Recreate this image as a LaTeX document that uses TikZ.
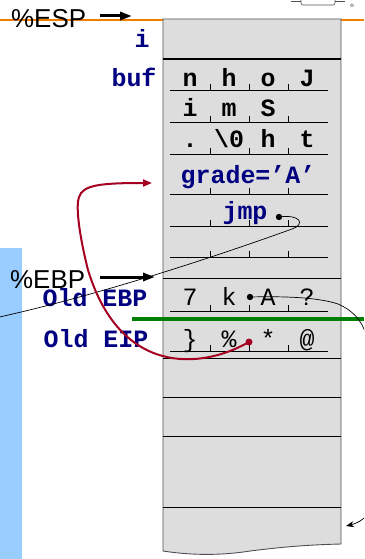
\documentclass[tikz,border=0pt]{standalone}
\usepackage{fontspec}
\newfontfamily\sansfnt{Liberation Sans}
\newfontfamily\monofnt{Liberation Mono}
\usetikzlibrary{arrows.meta}

\definecolor{stackgray}{HTML}{DDDDDD}
\definecolor{rimgray}{HTML}{505050}
\definecolor{regblue}{HTML}{99CCFF}
\definecolor{labelnavy}{HTML}{000080}
\definecolor{retred}{HTML}{A50021}
\definecolor{espline}{HTML}{F07D00}
\definecolor{savedgreen}{HTML}{008000}

\tikzset{
  reg/.style={font=\sansfnt\fontsize{26}{26}\selectfont, inner sep=0pt, anchor=base west},
  varlabel/.style={font=\monofnt\bfseries\fontsize{25}{25}\selectfont, text=labelnavy, inner sep=0pt, anchor=base},
  cellchar/.style={font=\monofnt\bfseries\fontsize{25}{25}\selectfont, inner sep=0pt, anchor=base},
  rawchar/.style={font=\monofnt\fontsize{25}{25}\selectfont, inner sep=0pt, anchor=base},
  regarrow/.style={line width=3bp, -{Triangle[length=12bp,width=8bp]}},
  retarrow/.style={retred, line width=2bp, -{Triangle[length=9bp,width=7bp]}},
  ptrline/.style={line width=0.7bp},
}

\begin{document}
\begin{tikzpicture}[x=1bp, y=-1bp]
    \useasboundingbox (0,0) rectangle (364,559);
    \clip (0,0) rectangle (364,559);

    % register bar and the stack pointer line
    \fill [regblue] (0,248) rectangle (22,559);
    \draw [espline, line width=2.2bp] (0,20) -- (364,20);

    % logo corner
    \draw [rimgray, line width=0.6bp] (291,1) -- (301,1);
    \draw [rimgray, line width=0.6bp, rounded corners=2bp] (301,-4) rectangle (335,5);
    \draw [rimgray, line width=0.6bp] (335,1) -- (345,1);
    \node [inner sep=0pt, font=\fontsize{5}{5}\selectfont] (logo-r) at (352,6) {\textregistered};

    % the stack itself
    \filldraw [fill=stackgray, draw=rimgray, line width=0.9bp]
        (163,19) -- (341,19) -- (341,544)
        .. controls (300,545) and (275,548) .. (250,551)
        .. controls (225,555) and (195,556) .. (163,551) -- cycle;
    \draw [line width=1.4bp] (163,59) -- (341,59);
    \foreach \y in {278,358,397,436,507}
        \draw [line width=0.9bp] (163,\y) -- (341,\y);

    % byte slots
    \foreach \y in {90,122,154,194,226,257,311,351} {
        \draw [line width=0.8bp] (170,\y) -- (328,\y);
        \foreach \x in {210,249,288}
            \draw [line width=0.8bp] (\x,\y) -- (\x,\y-6);
    }

    \draw [savedgreen, line width=4.5bp] (132,319) -- (364,319);

    % labels on the left
    \node [varlabel] (lbl-i) at (142,48) {i};
    \node [varlabel] (lbl-buf) at (134,87) {buf};
    \node [varlabel] (lbl-oldebp) at (95,306) {Old EBP};
    \node [varlabel] (lbl-oldeip) at (96,347) {Old EIP};

    % buffer contents
    \foreach \c [count=\i] in {n,h,o,J}
        \node [cellchar] (row1-\i) at ({151+39*\i},87) {\c};
    \foreach \c [count=\i] in {i,m,S}
        \node [cellchar] (row2-\i) at ({151+39*\i},117) {\c};
    \foreach \c [count=\i] in {.,{\textbackslash 0},h,t}
        \node [cellchar] (row3-\i) at ({151+39*\i},148) {\c};
    \node [varlabel] (grade) at (248,184) {grade=’A’};
    \node [varlabel] (jmp) at (245,220) {jmp};

    % overwritten saved registers
    \foreach \c [count=\i] in {7,k,A,?}
        \node [rawchar] (ebp-\i) at ({151+39*\i},305) {\c};
    \foreach \c [count=\i] in {\},\%,*,@}
        \node [rawchar] (eip-\i) at ({151+39*\i},347) {\c};

    % registers
    \node [reg] (esp) at (11,28) {\%ESP};
    \node [reg] (ebp) at (10,288) {\%EBP};
    \coordinate (esp-tail) at (100,16);
    \coordinate (esp-tip) at (132,16);
    \coordinate (ebp-tail) at (100,277);
    \coordinate (ebp-tip) at (155,277);
    \draw [regarrow] (esp-tail) -- (esp-tip);
    \draw [regarrow] (ebp-tail) -- (ebp-tip);

    % pointers
    \coordinate (jmp-dot) at (279,217);
    \coordinate (ebp-dot) at (250,297);
    \coordinate (ret-dot) at (249,342);
    \coordinate (grade-slot) at (152,183);
    \coordinate (off-edge) at (366,335);
    \coordinate (low-slot) at (346,526);

    \fill (jmp-dot) circle (3.2bp);
    \draw [ptrline] (jmp-dot) .. controls (300,214) and (306,224) .. (292,229)
        .. controls (220,255) and (100,295) .. (-5,318);

    \fill (ebp-dot) circle (3.2bp);
    \draw [ptrline] (ebp-dot) .. controls (290,296) and (320,298) .. (338,304)
        .. controls (352,310) and (362,320) .. (off-edge);
    \draw [ptrline, -{Stealth[length=8bp,width=6bp]}] (off-edge)
        .. controls (380,400) and (400,513) .. (low-slot);

    \draw [retarrow] (ret-dot) .. controls (200,370) and (120,375) .. (88,270)
        .. controls (78,230) and (76,205) .. (79,197)
        .. controls (83,185) and (100,183) .. (grade-slot);
    \fill [retred] (ret-dot) circle (3.5bp);
\end{tikzpicture}
\end{document}
